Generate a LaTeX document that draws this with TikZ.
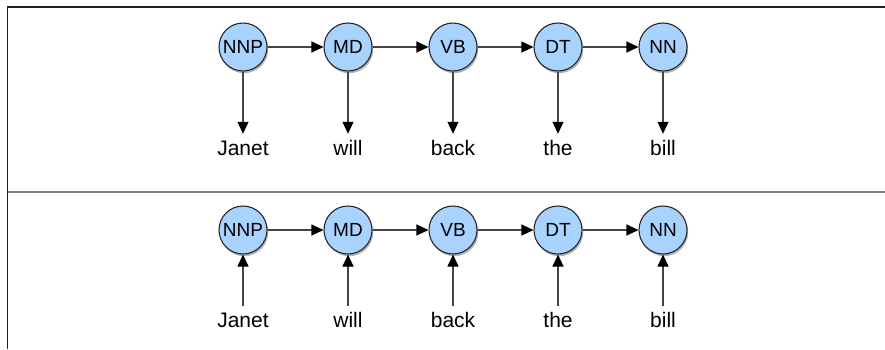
\documentclass[tikz,border=0pt]{standalone}
\usepackage{fontspec}
\setmainfont{Liberation Sans}
\usetikzlibrary{arrows.meta,shadows}
\definecolor{tagfill}{HTML}{A8D3FF}
\definecolor{framedark}{HTML}{222222}
\definecolor{framegray}{HTML}{7A7A7A}
\definecolor{arrowgray}{HTML}{444444}
\tikzset{
  tag/.style={circle, draw=black!85, line width=1.1pt, fill=tagfill, minimum size=48pt, inner sep=0pt,
    font=\fontsize{19}{21}\selectfont,
    drop shadow={shadow xshift=1.2pt, shadow yshift=-2.2pt, opacity=0.5, fill=black!60}},
  word/.style={anchor=base, inner xsep=0pt, inner ysep=6pt, text height=15pt, text depth=4pt,
    font=\fontsize{21}{24}\selectfont},
  conn/.style={draw=arrowgray, line width=1.1pt, -{Triangle[length=12pt,width=11pt,color=black,fill=black]}}
}
\begin{document}
\begin{tikzpicture}[x=1pt,y=-1pt]
\useasboundingbox (0,0) rectangle (885,349);
% frame
\coordinate (tl) at (7.5,7);
\coordinate (tr) at (885,7);
\coordinate (bl) at (7.5,349);
\coordinate (ml) at (7.5,192);
\coordinate (mr) at (885,192);
\draw[framedark, line width=1.8pt] (tr) -- (tl) -- (bl);
\draw[framegray, line width=1.6pt] (ml) -- (mr);
% nodes
\foreach \i/\t/\w/\x in {1/NNP/Janet/243, 2/MD/will/348, 3/VB/back/453, 4/DT/the/558, 5/NN/bill/663}{
  \node[tag] (a\i) at (\x,47) {\t};
  \node[word] (wa\i) at (\x,155) {\w};
  \node[tag] (b\i) at (\x,230) {\t};
  \node[word] (wb\i) at (\x,327) {\w};
}
\foreach \i in {1,...,5}{
  \draw[conn] (a\i) -- (wa\i.north);
  \draw[conn] (wb\i.north) -- (b\i);
}
\foreach \i/\j in {1/2,2/3,3/4,4/5}{
  \draw[conn] (a\i) -- (a\j);
  \draw[conn] (b\i) -- (b\j);
}
\end{tikzpicture}
\end{document}
